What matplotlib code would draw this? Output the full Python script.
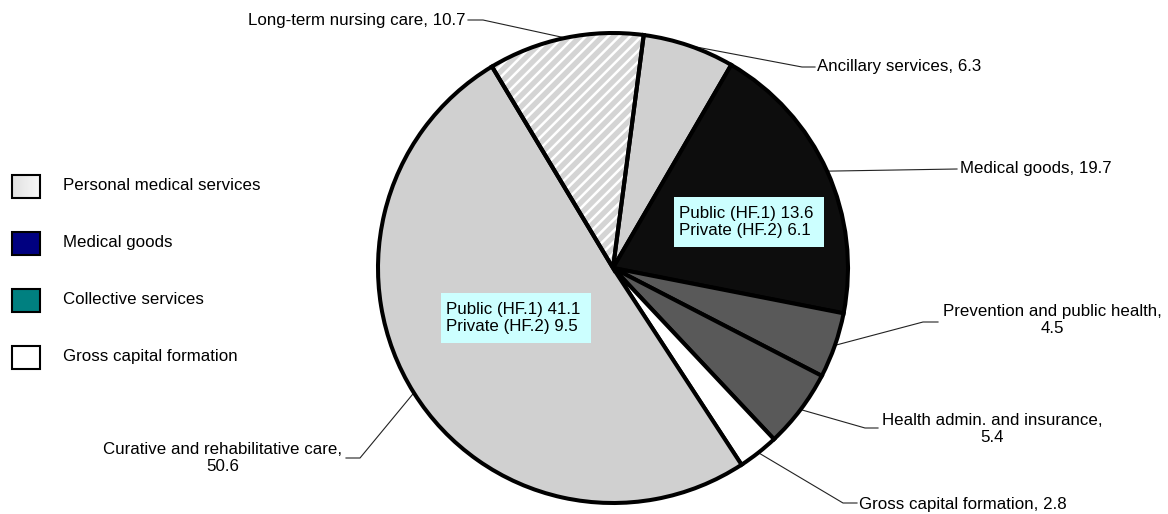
import numpy as np
import matplotlib
matplotlib.use("Agg")
import matplotlib.pyplot as plt
from matplotlib.patches import Rectangle, Wedge

plt.rcParams['font.family'] = ['Liberation Sans', 'DejaVu Sans']
plt.rcParams['hatch.linewidth'] = 1.8

# data (clockwise from the top-left edge of the hatched slice)
categories = ['Long-term nursing care', 'Ancillary services', 'Medical goods',
              'Prevention and public health', 'Health admin. and insurance',
              'Gross capital formation', 'Curative and rehabilitative care']
values = [10.7, 6.3, 19.7, 4.5, 5.4, 2.8, 50.6]
label_texts = ['Long-term nursing care, 10.7', 'Ancillary services, 6.3',
               'Medical goods, 19.7', 'Prevention and public health,\n4.5',
               'Health admin. and insurance,\n5.4', 'Gross capital formation, 2.8',
               'Curative and rehabilitative care,\n50.6']
slice_colors = ['#d4d4d4', '#d0d0d0', '#0d0d0d', '#595959', '#595959', '#ffffff', '#d0d0d0']

split_boxes = [('Medical goods', 13.6, 6.1), ('Curative and rehabilitative care', 41.1, 9.5)]

legend_names = ['Personal medical services', 'Medical goods', 'Collective services',
                'Gross capital formation']
legend_colors = [None, '#000080', '#008080', '#ffffff']

# layout, in pixels from the top left corner
W, H = 1168, 514
cx, cy, r = 613, 268, 235
# (elbow point, text anchor point, ha)
label_layout = [((483, 20), (466, 20), 'right'),
                ((802, 67), (817, 67), 'left'),
                ((957, 169), (960, 169), 'left'),
                ((923, 322), (1052, 320), 'center'),
                ((865, 428), (992, 429), 'center'),
                ((843, 503), (859, 505), 'left'),
                ((360, 458), (223, 458), 'center')]
line_ends = [(468, 20), (815, 67), None, (938, 322), (878, 428), (857, 503), (346, 458)]
box_origins = [(674, 197), (441, 293)]
legend_y = [186, 243, 300, 357]
fs = 12.2
edge_lw = 2.9

fig = plt.figure(figsize=(W / 100, H / 100), dpi=100)
ax = fig.add_axes([0, 0, 1, 1])

# y axis points down, so visual clockwise is counterclockwise here
wedges, _ = ax.pie(values, colors=slice_colors, startangle=-121, counterclock=True,
                   center=(cx, cy), radius=r,
                   wedgeprops=dict(edgecolor='black', linewidth=edge_lw))
ax.set_aspect('auto')
ax.set_xlim(0, W)
ax.set_ylim(H, 0)
ax.axis('off')

# hatched slice: white stripes, then the black outline on top
hw = wedges[0]
hw.set_hatch('///')
hw.set_edgecolor('white')
hw.set_linewidth(0)
ax.add_patch(Wedge(hw.center, hw.r, hw.theta1, hw.theta2, fill=False,
                   edgecolor='black', linewidth=edge_lw, zorder=hw.get_zorder() + 0.1))

for w, txt, (elbow, anchor, ha), end in zip(wedges, label_texts, label_layout, line_ends):
    mid = np.deg2rad((w.theta1 + w.theta2) / 2)
    px, py = cx + r * np.cos(mid), cy + r * np.sin(mid)
    xs, ys = [px, elbow[0]], [py, elbow[1]]
    if end is not None:
        xs.append(end[0])
        ys.append(end[1])
    ax.plot(xs, ys, color='#222222', lw=0.8, zorder=0.5)
    ax.text(anchor[0], anchor[1], txt, ha=ha, va='center', fontsize=fs,
            multialignment='center', linespacing=1.15)

for (name, pub, priv), (bx, by) in zip(split_boxes, box_origins):
    ax.add_patch(Rectangle((bx, by), 150, 50, facecolor='#ccffff', edgecolor='none', zorder=3))
    ax.text(bx + 5, by + 25, f'Public (HF.1) {pub}\nPrivate (HF.2) {priv}', ha='left',
            va='center', fontsize=fs, linespacing=1.2, zorder=4)

# legend
for name, col, ly in zip(legend_names, legend_colors, legend_y):
    if col is None:
        grad = np.linspace(0.88, 0.97, 50).reshape(1, -1)
        ax.imshow(grad, cmap='gray', vmin=0, vmax=1, extent=(12, 40, ly + 11.5, ly - 11.5),
                  aspect='auto', zorder=2)
        ax.add_patch(Rectangle((12, ly - 11.5), 28, 23, fill=False, edgecolor='black',
                               linewidth=1.5, zorder=3))
    else:
        ax.add_patch(Rectangle((12, ly - 11.5), 28, 23, facecolor=col, edgecolor='black',
                               linewidth=1.5, zorder=3))
    ax.text(63, ly, name, ha='left', va='center', fontsize=fs)

ax.set_xlim(0, W)
ax.set_ylim(H, 0)
fig.savefig('out.png', dpi=100)
